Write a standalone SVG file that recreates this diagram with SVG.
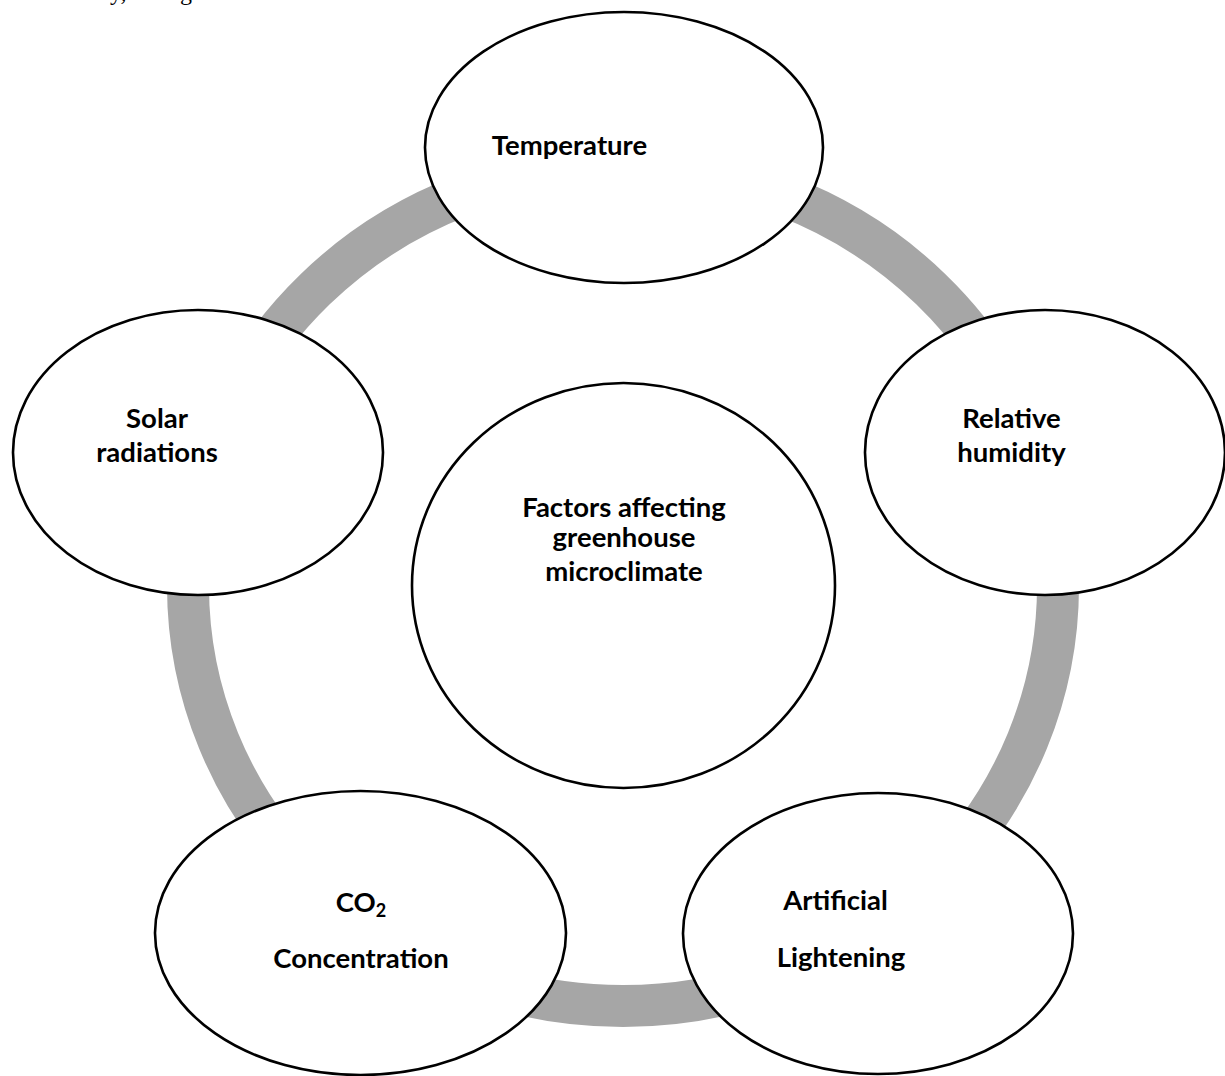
<svg xmlns="http://www.w3.org/2000/svg" width="1225" height="1076" viewBox="0 0 1225 1076">
  <style>
    .node { fill: #ffffff; stroke: #000000; stroke-width: 2.6; }
    .label { font-family: Lato, "Liberation Sans", sans-serif; font-weight: bold; font-size: 27.5px; fill: #000000; text-anchor: middle; }
    .body { font-family: "Liberation Serif", serif; font-size: 24px; fill: #000000; }
  </style>
  <rect x="0" y="0" width="1225" height="1076" fill="#ffffff"/>

  <!-- running text of the page above the figure, cut by the top edge -->
  <text class="body" x="74" y="-0.5">nally,</text>
  <text class="body" x="160" y="-0.5">Fig</text>

  <!-- grey ring linking the factors -->
  <g id="connectors">
    <ellipse cx="623" cy="586" rx="435" ry="420" fill="none" stroke="#a6a6a6" stroke-width="42"/>
  </g>

  <g id="temperature">
    <ellipse class="node" cx="624" cy="147.5" rx="199" ry="135.5"/>
    <text class="label" x="569.5" y="155">Temperature</text>
  </g>

  <g id="solar-radiations">
    <ellipse class="node" cx="198" cy="452.5" rx="185" ry="142.5"/>
    <text class="label" x="157" y="428">Solar</text>
    <text class="label" x="157" y="462">radiations</text>
  </g>

  <g id="relative-humidity">
    <ellipse class="node" cx="1045" cy="452.5" rx="180" ry="142.5"/>
    <text class="label" x="1011.5" y="428">Relative</text>
    <text class="label" x="1011.5" y="462">humidity</text>
  </g>

  <g id="center">
    <ellipse class="node" cx="623.5" cy="585.5" rx="211.5" ry="202.5"/>
    <text class="label" x="624" y="517">Factors affecting</text>
    <text class="label" x="624" y="547">greenhouse</text>
    <text class="label" x="624" y="581">microclimate</text>
  </g>

  <g id="co2-concentration">
    <ellipse class="node" cx="360.5" cy="933" rx="205.5" ry="142"/>
    <text class="label" x="361" y="912">CO<tspan font-size="18" dy="5">2</tspan></text>
    <text class="label" x="361" y="968">Concentration</text>
  </g>

  <g id="artificial-lightening">
    <ellipse class="node" cx="878" cy="933.5" rx="195" ry="140.5"/>
    <text class="label" x="835.5" y="910">Artificial</text>
    <text class="label" x="841" y="967">Lightening</text>
  </g>
</svg>
